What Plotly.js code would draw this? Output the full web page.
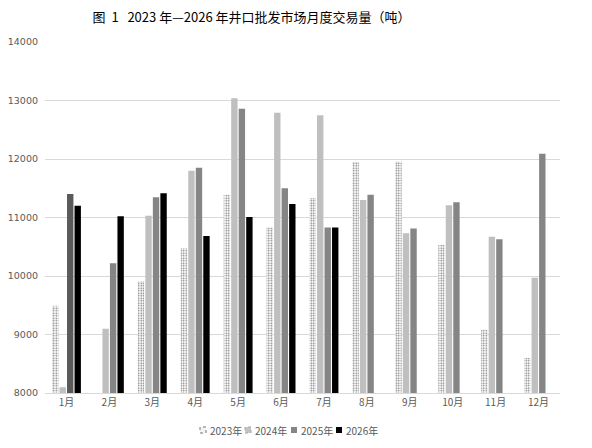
<!DOCTYPE html>
<html><head><meta charset="utf-8">
<script src="https://cdn.plot.ly/plotly-3.0.1.min.js"></script>
<style>html,body{margin:0;padding:0;background:#fff;}#c{width:592px;height:448px;}</style>
</head><body><div id="c"></div>
<script>
var months = ['1月','2月','3月','4月','5月','6月','7月','8月','9月','10月','11月','12月'];
var s2023 = [9490, null, 9910, 10470, 11390, 10830, 11330, 11950, 11955, 10530, 9080, 8600];
var s2024 = [8100, 9100, 11030, 11800, 13040, 12790, 12750, 11300, 10730, 11210, 10670, 9970];
var s2025 = [11400, 10220, 11345, 11850, 12860, 11500, 10830, 11390, 10810, 11260, 10630, 12090];
var s2026 = [11200, 11020, 11415, 10685, 11010, 11230, 10830, null, null, null, null, null];
var names = ['2023年','2024年','2025年','2026年'];
var yTicks = [8000, 9000, 10000, 11000, 12000, 13000, 14000];

var c2025 = months.map(function(m,i){return i===0 ? '#5a5a5a' : '#858585';});

var traces = [
  {type:'bar', name:names[0], x:months, y:s2023,
   marker:{color:'#ffffff', line:{width:0}, pattern:{shape:'.', fgcolor:'#707070', bgcolor:'#ffffff', size:2.5, solidity:0.3}}},
  {type:'bar', name:names[1], x:months, y:s2024,
   marker:{color:'#c4c4c4', line:{width:0}, pattern:{shape:'.', fgcolor:'#a0a0a0', bgcolor:'#d8d8d8', size:2, solidity:0.5}}},
  {type:'bar', name:names[2], x:months, y:s2025,
   marker:{color:c2025, line:{width:0}}},
  {type:'bar', name:names[3], x:months, y:s2026,
   marker:{color:'#000000', line:{width:0}}}
];

// compact legend (positions in page pixels, converted to paper coords)
var L = 45, R = 560, T = 42, B = 393;
function px(x){ return (x - L) / (R - L); }
function py(y){ return (B - y) / (B - T); }
var legX = [203, 248, 294, 339], legY = 430, half = 3;
var legFill = ['#f4f4f4', '#c4c4c4', '#858585', '#000000'];
var legLine = [{color:'#777777', width:1, dash:'dot'}, {color:'#a8a8a8', width:1, dash:'dot'}, {width:0}, {width:0}];
var shapes = [], annotations = [];
for (var i = 0; i < names.length; i++) {
  shapes.push({type:'rect', xref:'paper', yref:'paper', x0:px(legX[i]-half), x1:px(legX[i]+half), y0:py(legY+half), y1:py(legY-half),
               fillcolor:legFill[i], line:legLine[i]});
  annotations.push({xref:'paper', yref:'paper', x:px(legX[i]+5), y:py(legY), xanchor:'left', yanchor:'middle', showarrow:false,
                    text:names[i], font:{size:10, color:'#595959'}});
}

var layout = {
  width:592, height:448,
  margin:{l:45, r:32, t:42, b:55, autoexpand:false},
  paper_bgcolor:'#ffffff', plot_bgcolor:'#ffffff',
  font:{family:'"Noto Sans CJK SC", "DejaVu Sans", sans-serif', color:'#595959', size:10},
  title:{text:'图\u00a0\u00a01\u00a0\u00a0\u00a02023\u00a0年—2026\u00a0年井口批发市场月度交易量（吨）', x:0.425, xref:'container', xanchor:'center', y:0.96, yref:'container', yanchor:'middle',
         font:{family:'"Noto Sans CJK SC", sans-serif', size:13, color:'#000000'}},
  barmode:'group', bargap:0.3, bargroupgap:0.15,
  xaxis:{type:'category', showgrid:false, showline:true, linecolor:'#d9d9d9', linewidth:1, ticks:'', tickfont:{size:10, color:'#595959'}, fixedrange:true, automargin:false},
  yaxis:{range:[8000,14000], tickvals:yTicks, ticktext:yTicks.map(String), showgrid:true, gridcolor:'#d9d9d9', gridwidth:1, zeroline:false, showline:false, ticks:'', tickfont:{size:9.5, color:'#595959', family:'"DejaVu Sans", sans-serif'}, ticklabelstandoff:6, automargin:false},
  showlegend:false,
  shapes:shapes,
  annotations:annotations
};
Plotly.newPlot('c', traces, layout, {displayModeBar:false, staticPlot:true});
</script></body></html>
